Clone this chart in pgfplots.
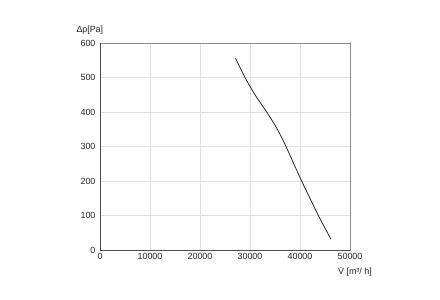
\documentclass[border=0pt]{standalone}
\usepackage{pgfplots}
\pgfplotsset{compat=1.18}
\usepackage{fontspec}
\setmainfont{Liberation Sans}
\newcommand{\Vdot}{{\ooalign{V\cr\hidewidth\smash{\raisebox{0.68em}{.}}\hidewidth\cr}}}
\begin{document}
\begin{tikzpicture}
\path[use as bounding box] (-100bp,-50bp) rectangle (340bp,250bp);
\begin{axis}[
  at={(0,0)}, anchor=south west,
  scale only axis, width=250bp, height=207bp,
  xmin=0, xmax=50000, ymin=0, ymax=600,
  xtick={0,10000,...,50000}, ytick={0,100,...,600},
  scaled ticks=false,
  /pgf/number format/1000 sep={},
  /pgf/number format/assume math mode=true,
  tick label style={font=\fontsize{9}{10}\selectfont, text=black!85},
  major tick length=0pt,
  grid=major, grid style={black!12, line width=0.5pt},
  axis line style={black!45, line width=0.6pt},
  xticklabel style={yshift=0bp},
  yticklabel style={xshift=-1bp},
  after end axis/.code={
    \draw[black!70, line width=1pt] (rel axis cs:0,1) -- (rel axis cs:0,0) -- (rel axis cs:1,0);
    \node[font=\fontsize{9}{10}\selectfont, text=black!85, anchor=base] at (rel axis cs:-0.04,1.05) {∆p[Pa]};
    \node[font=\fontsize{9}{10}\selectfont, text=black!85, anchor=base] at (rel axis cs:1.02,-0.12) {\Vdot\ [m³/ h]};
  },
]
\addplot[black!85, line width=0.8pt, smooth, tension=0.3] coordinates {
(27100,556) (29000,500) (31000,450) (33330,400) (35000,362) (36200,330) (37200,300) (40330,200) (43670,100) (46200,31)
};
\end{axis}
\end{tikzpicture}
\end{document}
